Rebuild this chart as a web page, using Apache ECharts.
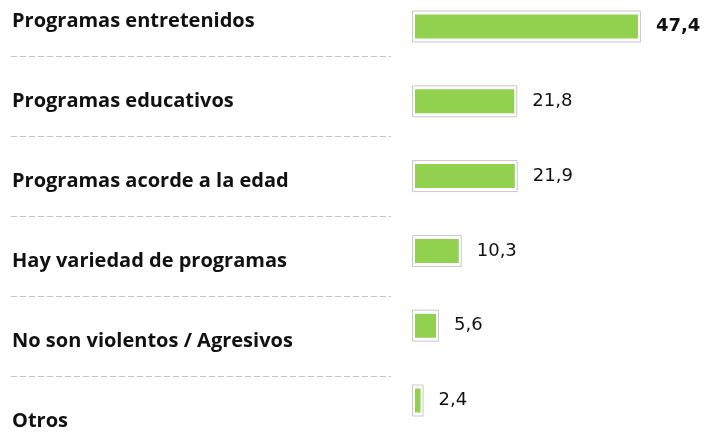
<!DOCTYPE html>
<html>
<head>
<meta charset="utf-8">
<script src="https://cdn.jsdelivr.net/npm/echarts@6/dist/echarts.min.js"></script>
<style>html,body{margin:0;padding:0;background:#fff;}#c{width:712px;height:433px;}</style>
</head>
<body>
<div id="c"></div>
<script>
const categories = ["Programas entretenidos", "Programas educativos", "Programas acorde a la edad", "Hay variedad de programas", "No son violentos / Agresivos", "Otros"];
const values = [47.4, 21.8, 21.9, 10.3, 5.6, 2.4];

const chart = echarts.init(document.getElementById('c'), null, {renderer: 'canvas'});
const fmt = p => String(p.value).replace('.', ',');
chart.setOption({
  animation: false,
  backgroundColor: '#fff',
  grid: [
    {left: 412, top: 26.5, width: 241.5, height: 374},
    {left: 11, top: 21, width: 380, height: 400},
    {left: 11, top: 16, width: 380, height: 400}
  ],
  xAxis: [
    {gridIndex: 0, type: 'value', min: 0, max: 50, show: false},
    {gridIndex: 1, type: 'value', min: 0, max: 1, show: false},
    {gridIndex: 2, type: 'value', min: 0, max: 1, show: false}
  ],
  yAxis: [
    {gridIndex: 0, type: 'category', data: categories, inverse: true, boundaryGap: false, show: false},
    {gridIndex: 0, type: 'category', data: categories, inverse: true, boundaryGap: false, show: false, position: 'right'},
    {gridIndex: 1, type: 'category', data: categories, inverse: true, boundaryGap: false,
      axisLine: {show: false}, axisTick: {show: false}, splitLine: {show: false},
      axisLabel: {inside: true, margin: 1, color: '#111', fontFamily: 'Open Sans', fontWeight: 700, fontSize: 20}
    },
    {gridIndex: 2, type: 'value', min: 0, max: 10, interval: 1,
      axisLine: {show: false}, axisTick: {show: false}, axisLabel: {show: false},
      splitLine: {show: true, lineStyle: {color: ['rgba(0,0,0,0)', '#c4c4c4'], width: 1, type: [6, 3]}}
    }
  ],
  series: [
    {
      type: 'bar', xAxisIndex: 0, yAxisIndex: 1, z: 2,
      data: values, barWidth: 30,
      itemStyle: {color: '#92d050', borderColor: '#ffffff', borderWidth: 3}
    },
    {
      type: 'bar', xAxisIndex: 0, yAxisIndex: 0, z: 3,
      data: values.map((v, i) => i === 0 ? {value: v, label: {fontWeight: 'bold'}} : v),
      barWidth: 32,
      itemStyle: {color: 'rgba(0,0,0,0)', borderColor: '#c8c8c8', borderWidth: 1},
      label: {show: true, position: 'right', distance: 15, formatter: fmt, color: '#111', fontFamily: 'DejaVu Sans', fontSize: 18}
    }
  ]
});
</script>
</body>
</html>
